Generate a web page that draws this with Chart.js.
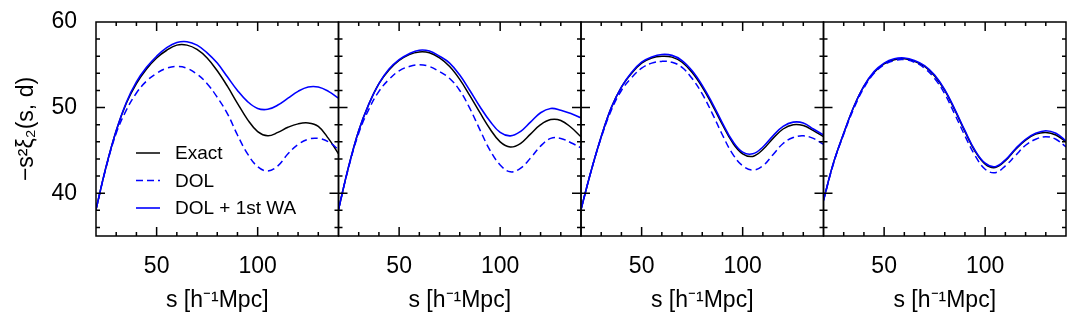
<!DOCTYPE html>
<html>
<head>
<meta charset="utf-8">
<script src="https://cdn.jsdelivr.net/npm/chart.js@4/dist/chart.umd.min.js"></script>
<style>
  body { margin: 0; background: #fff; }
  #wrap { position: relative; width: 1079px; height: 328px; }
  #wrap canvas { position: absolute; left: 0; top: 0; }
</style>
</head>
<body>
<div id="wrap">
  <canvas id="panel0" width="1079" height="328"></canvas>
  <canvas id="panel1" width="1079" height="328"></canvas>
  <canvas id="panel2" width="1079" height="328"></canvas>
  <canvas id="panel3" width="1079" height="328"></canvas>
</div>
<script>
// separation s, same grid for every curve
const sValues = [20, 25, 30, 35, 40, 45, 50, 55, 60, 65, 70, 75, 80, 85, 90, 95, 100, 105, 110, 115, 120, 125, 130, 135, 140];

// panel 1
const exact1 = [38.1, 43.1, 47.3, 50.5, 52.8, 54.5, 55.8, 56.7, 57.3, 57.3, 56.8, 55.8, 54.3, 52.5, 50.5, 48.6, 47.2, 46.7, 47.1, 47.7, 48.1, 48.2, 47.8, 46.4, 44.6];
const dol1   = [38.1, 43.0, 47.0, 49.7, 51.7, 53.1, 54.0, 54.6, 54.8, 54.6, 53.9, 52.8, 51.2, 49.3, 46.8, 44.6, 43.1, 42.6, 43.2, 44.6, 45.7, 46.3, 46.4, 46.0, 45.1];
const wa1    = [38.1, 43.1, 47.3, 50.6, 53.0, 54.7, 56.0, 57.0, 57.6, 57.7, 57.3, 56.4, 55.2, 53.6, 52.0, 50.7, 49.9, 49.8, 50.3, 51.1, 51.9, 52.4, 52.4, 51.9, 51.1];
// panel 2
const exact2 = [38.1, 43.1, 47.3, 50.4, 52.8, 54.4, 55.5, 56.2, 56.5, 56.4, 55.8, 54.8, 53.3, 51.4, 49.4, 47.5, 46.0, 45.4, 45.8, 46.9, 48.0, 48.6, 48.5, 47.7, 46.6];
const dol2   = [38.1, 43.0, 47.0, 49.8, 51.9, 53.3, 54.3, 54.8, 55.0, 54.8, 54.2, 53.4, 52.0, 49.9, 47.4, 45.0, 43.3, 42.5, 42.9, 44.1, 45.5, 46.4, 46.4, 45.9, 45.3];
const wa2    = [38.1, 43.1, 47.3, 50.4, 52.8, 54.5, 55.6, 56.3, 56.7, 56.6, 56.0, 55.2, 53.8, 52.0, 50.1, 48.4, 47.1, 46.7, 47.2, 48.3, 49.4, 49.9, 49.7, 49.3, 48.8];
// panel 3
const exact3 = [38.1, 42.6, 46.6, 50.0, 52.4, 54.0, 55.2, 55.8, 56.0, 55.9, 55.3, 54.1, 52.4, 50.3, 48.0, 45.9, 44.6, 44.3, 45.1, 46.4, 47.5, 48.0, 47.9, 47.3, 46.6];
const dol3   = [38.1, 42.6, 46.5, 49.7, 52.0, 53.5, 54.6, 55.2, 55.4, 55.3, 54.7, 53.4, 51.6, 49.3, 46.8, 44.6, 43.2, 42.7, 43.2, 44.5, 45.8, 46.5, 46.7, 46.4, 45.7];
const wa3    = [38.1, 42.6, 46.6, 50.0, 52.4, 54.1, 55.3, 55.9, 56.2, 56.1, 55.5, 54.3, 52.6, 50.5, 48.2, 46.1, 44.8, 44.6, 45.4, 46.7, 47.8, 48.3, 48.2, 47.5, 46.8];
// panel 4
const exact4 = [39.2, 43.6, 47.0, 50.1, 52.5, 54.1, 55.1, 55.6, 55.7, 55.4, 54.8, 53.7, 52.0, 49.7, 47.2, 44.9, 43.4, 43.0, 43.8, 45.1, 46.2, 46.9, 47.1, 46.8, 46.0];
const dol4   = [39.1, 43.5, 46.9, 49.9, 52.3, 54.0, 55.0, 55.5, 55.6, 55.3, 54.6, 53.4, 51.6, 49.2, 46.7, 44.4, 42.8, 42.4, 43.2, 44.4, 45.6, 46.3, 46.6, 46.3, 45.4];
const wa4    = [39.2, 43.6, 47.0, 50.1, 52.5, 54.2, 55.2, 55.7, 55.8, 55.5, 54.9, 53.8, 52.1, 49.8, 47.3, 45.0, 43.5, 43.1, 43.9, 45.2, 46.3, 47.0, 47.3, 47.0, 46.1];

const seriesLabels = ['Exact', 'DOL', 'DOL + 1st WA'];
const xTickValues = [50, 100];
const yTickValues = [40, 50, 60];

const exactSets = [exact1, exact2, exact3, exact4];
const dolSets = [dol1, dol2, dol3, dol4];
const waSets = [wa1, wa2, wa3, wa4];

const FONT = "'Liberation Sans', Arial, Helvetica, sans-serif";
Chart.defaults.font.family = FONT;
Chart.defaults.color = '#000';

// panel borders in page pixels
const edges = [96, 338.5, 581, 823.5, 1066];

function toPoints(arr) {
    return arr.map((v, i) => ({ x: sValues[i], y: v }));
}

// box with inward ticks on all four sides
const framePlugin = {
    id: 'frame',
    afterDraw(chart) {
        const { ctx, chartArea } = chart;
        const { left, right, top, bottom } = chartArea;
        const xs = chart.scales.x, ys = chart.scales.y;
        ctx.save();
        ctx.strokeStyle = '#000';
        ctx.lineWidth = 1.5;
        ctx.strokeRect(left, top, right - left, bottom - top);
        ctx.beginPath();
        for (let v = 30; v <= 130; v += 10) {
            const px = xs.getPixelForValue(v);
            const len = v % 50 === 0 ? 9 : 4;
            ctx.moveTo(px, bottom); ctx.lineTo(px, bottom - len);
            ctx.moveTo(px, top); ctx.lineTo(px, top + len);
        }
        for (let v = 36; v <= 58; v += 2) {
            const py = ys.getPixelForValue(v);
            const len = v % 10 === 0 ? 9 : 4;
            ctx.moveTo(left, py); ctx.lineTo(left + len, py);
            ctx.moveTo(right, py); ctx.lineTo(right - len, py);
        }
        ctx.stroke();
        ctx.restore();
    }
};

// legend inside the first panel
const legendPlugin = {
    id: 'insideLegend',
    afterDraw(chart) {
        const { ctx, chartArea } = chart;
        ctx.save();
        ctx.font = '19px ' + FONT;
        ctx.textBaseline = 'middle';
        ctx.fillStyle = '#000';
        chart.data.datasets.forEach((ds, j) => {
            const y = chartArea.top + 131 + j * 27.5;
            ctx.strokeStyle = ds.borderColor;
            ctx.lineWidth = ds.borderWidth;
            ctx.setLineDash(ds.borderDash || []);
            ctx.beginPath();
            ctx.moveTo(chartArea.left + 40, y);
            ctx.lineTo(chartArea.left + 64, y);
            ctx.stroke();
            ctx.setLineDash([]);
            ctx.fillText(ds.label, chartArea.left + 79, y + 1);
        });
        ctx.restore();
    }
};

for (let i = 0; i < 4; i++) {
    const first = i === 0;
    new Chart(document.getElementById('panel' + i), {
        type: 'line',
        data: {
            datasets: [
                { label: seriesLabels[0], data: toPoints(exactSets[i]), borderColor: '#000000', borderWidth: 1.5, order: 3 },
                { label: seriesLabels[1], data: toPoints(dolSets[i]), borderColor: '#0000ff', borderWidth: 1.5, borderDash: [7, 4], order: 2 },
                { label: seriesLabels[2], data: toPoints(waSets[i]), borderColor: '#0000ff', borderWidth: 1.6, order: 1 }
            ]
        },
        options: {
            responsive: false,
            animation: false,
            devicePixelRatio: 1,
            events: [],
            layout: { padding: { left: first ? 0 : edges[i], right: 1079 - edges[i + 1], top: 22, bottom: 0 } },
            elements: {
                point: { radius: 0 },
                line: { tension: 0.4, fill: false }
            },
            plugins: { legend: { display: false }, tooltip: { enabled: false } },
            scales: {
                x: {
                    type: 'linear', min: 20, max: 140,
                    afterBuildTicks: s => { s.ticks = xTickValues.map(v => ({ value: v })); },
                    afterFit: s => { s.height = 92; s.paddingLeft = 0; s.paddingRight = 0; },
                    grid: { display: false, drawTicks: false },
                    border: { display: false },
                    ticks: { padding: 17, font: { size: 23 }, color: '#000' },
                    title: { display: true, text: 's [h⁻¹Mpc]', font: { size: 23 }, color: '#000', padding: 14 }
                },
                y: {
                    type: 'linear', min: 35, max: 60,
                    display: first,
                    afterBuildTicks: s => { s.ticks = yTickValues.map(v => ({ value: v })); },
                    // keep the tick padding from pushing the plot area down
                    afterFit: s => { s.width = first ? 96 : 0; s.paddingTop = 0; s.paddingBottom = 0; },
                    grid: { display: false, drawTicks: false },
                    border: { display: false },
                    ticks: { padding: 19, font: { size: 23 }, color: '#000' },
                    title: { display: true, text: '−s²ξ₂(s, d)', font: { size: 23 }, color: '#000', padding: 13 }
                }
            }
        },
        plugins: first ? [framePlugin, legendPlugin] : [framePlugin]
    });
}
</script>
</body>
</html>
